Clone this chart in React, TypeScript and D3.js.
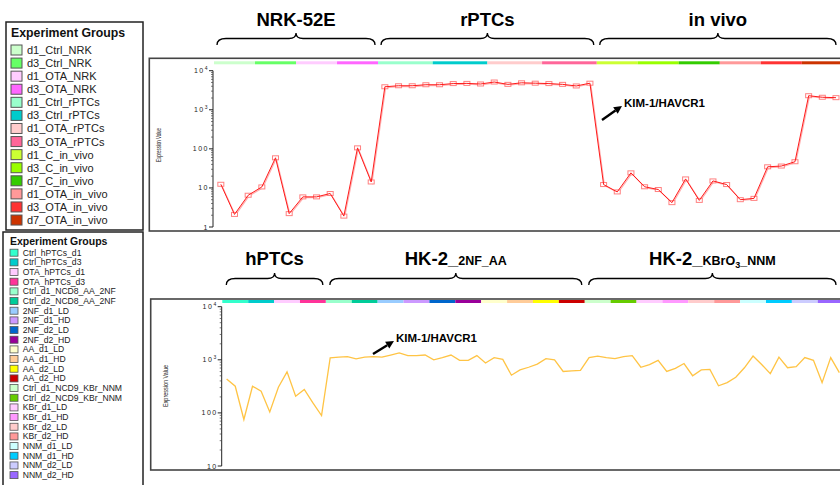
import React from 'react';
import * as d3 from 'd3';

const topGroups = ['d1_Ctrl_NRK','d3_Ctrl_NRK','d1_OTA_NRK','d3_OTA_NRK','d1_Ctrl_rPTCs','d3_Ctrl_rPTCs','d1_OTA_rPTCs','d3_OTA_rPTCs','d1_C_in_vivo','d3_C_in_vivo','d7_C_in_vivo','d1_OTA_in_vivo','d3_OTA_in_vivo','d7_OTA_in_vivo'];
const topColors = ['#ccffcc','#66ff66','#ffccff','#ff66ff','#99ffcc','#00cccc','#ffcccc','#ff6699','#ccff33','#99ff00','#33cc00','#ff9999','#ff3333','#cc3300'];
const topGroupSizes = [3,3,3,3,4,4,4,4,3,3,3,3,3,3];
const topValues = [12.4,2.1,6.5,10.6,59,2.2,5.9,5.9,7.2,1.9,106,14.2,
  3880,4120,4120,4370,4370,4680,4730,4570,5130,4470,4900,4790,4680,4470,4070,4790,
  12.2,7.9,24.3,10.7,9.1,4.2,17,4.8,15.1,12.2,5.0,5.4,34.7,36.3,46.8,2290,2090,2040];
const topSections = ['NRK-52E','rPTCs','in vivo'];
const topSectionGroups = [4,4,6];

const bottomGroups = ['Ctrl_hPTCs_d1','Ctrl_hPTCs_d3','OTA_hPTCs_d1','OTA_hPTCs_d3','Ctrl_d1_NCD8_AA_2NF','Ctrl_d2_NCD8_AA_2NF','2NF_d1_LD','2NF_d1_HD','2NF_d2_LD','2NF_d2_HD','AA_d1_LD','AA_d1_HD','AA_d2_LD','AA_d2_HD','Ctrl_d1_NCD9_KBr_NNM','Ctrl_d2_NCD9_KBr_NNM','KBr_d1_LD','KBr_d1_HD','KBr_d2_LD','KBr_d2_HD','NNM_d1_LD','NNM_d1_HD','NNM_d2_LD','NNM_d2_HD'];
const bottomColors = ['#33ffcc','#00cccc','#ffccff','#ff3399','#99ffcc','#00cc99','#99ccff','#cc99ff','#0066cc','#990099','#ffffcc','#ffcc99','#ffff00','#cc0000','#ccffcc','#66cc00','#ffccff','#ff99ff','#ffcccc','#ff9999','#ccffff','#00ccff','#ccccff','#9966ff'];
const bottomGroupSizes = Array.from({length: 24}, () => 3);
const bottomValues = [437,318,75,318,256,104,305,594,206,276,154,89,
  1090,1120,1150,1045,1120,1150,1120,1230,1350,1200,1200,1230,1000,1100,1230,977,977,1200,871,1100,1020,513,646,724,832,1050,1000,603,617,631,1100,1175,1100,
  1050,1150,1200,724,813,977,603,692,851,501,646,661,324,372,468,708,1175,813,550,1120,708,741,1100,977,372,1100,575];
const bottomSectionGroups = [4,10,10];

const FONT = 'Liberation Sans, Arial, sans-serif';

function bracePath(x1: number, x2: number, mid: number, yTop: number, yMid: number, yBot: number) {
  return `M${x1},${yBot} Q${x1},${yMid} ${x1 + 9},${yMid} L${mid - 7},${yMid} Q${mid},${yMid} ${mid},${yTop} Q${mid},${yMid} ${mid + 7},${yMid} L${x2 - 9},${yMid} Q${x2},${yMid} ${x2},${yBot}`;
}

function cumulative(sizes: number[]) {
  const out = [0];
  sizes.forEach(s => out.push(out[out.length - 1] + s));
  return out;
}

function YAxis({ scale, x, decades }: { scale: any; x: number; decades: number[] }) {
  const [lo, hi] = scale.domain();
  const minors: number[] = [];
  for (let d = lo; d < hi; d *= 10) for (let k = 2; k <= 9; k++) minors.push(d * k);
  const r = scale.range();
  return (
    <g>
      <line x1={x} x2={x} y1={r[0]} y2={r[1]} stroke="#222" strokeWidth={1} />
      {minors.map((m, i) => (
        <line key={'m' + i} x1={x - 2} x2={x} y1={scale(m)} y2={scale(m)} stroke="#444" strokeWidth={0.7} />
      ))}
      {decades.map((d, i) => (
        <g key={'d' + i}>
          <line x1={x - 4} x2={x} y1={scale(d)} y2={scale(d)} stroke="#222" strokeWidth={1} />
          {d >= 1000 ? (
            <text x={x - 4} y={scale(d) + 2.5} textAnchor="end" fontSize={7} letterSpacing={1.5} fill="#222" fontFamily={FONT}>
              10<tspan fontSize={5} dy={-3}>{d === 1e4 ? '4' : '3'}</tspan>
            </text>
          ) : (
            <text x={x - 4} y={scale(d) + 2.5} textAnchor="end" fontSize={7} letterSpacing={1.5} fill="#222" fontFamily={FONT}>{String(d)}</text>
          )}
        </g>
      ))}
    </g>
  );
}

function Arrow({ x1, y1, x2, y2 }: { x1: number; y1: number; x2: number; y2: number }) {
  const a = Math.atan2(y2 - y1, x2 - x1);
  const L = 8, W = 4;
  const bx = x2 - L * Math.cos(a), by = y2 - L * Math.sin(a);
  const p = `M${x2},${y2} L${bx + W * Math.sin(a)},${by - W * Math.cos(a)} L${bx - W * Math.sin(a)},${by + W * Math.cos(a)} Z`;
  return (
    <g>
      <line x1={x1} y1={y1} x2={bx} y2={by} stroke="#000" strokeWidth={2.4} />
      <path d={p} fill="#000" />
    </g>
  );
}

export default function App() {
  const xTop = d3.scaleLinear().domain([0, topValues.length]).range([214, 214 + topValues.length * 13.67]);
  const yTop = d3.scaleLog().domain([1, 1e4]).range([227, 70.7]);
  const xBot = d3.scaleLinear().domain([0, bottomValues.length]).range([222.3, 222.3 + bottomValues.length * 8.63]);
  const yBot = d3.scaleLog().domain([10, 1e4]).range([466, 306.7]);

  const topCum = cumulative(topGroupSizes);
  const botCum = cumulative(bottomGroupSizes);
  const topSecCum = cumulative(topSectionGroups);
  const botSecCum = cumulative(bottomSectionGroups);

  const topLine = d3.line<number>().x((_, i) => xTop(i + 0.5)).y(d => yTop(d));
  const botLine = d3.line<number>().x((_, i) => xBot(i + 0.5)).y(d => yBot(d));

  const clampR = (v: number) => Math.min(v, 836);

  return (
    <svg width={840} height={485} style={{ position: 'absolute', left: 0, top: 0, background: '#fff' }} fontFamily={FONT}>
      <rect x={0} y={0} width={840} height={485} fill="#fff" />

      {/* Legend top */}
      <rect x={6} y={22} width={137} height={208} fill="#fff" stroke="#222" strokeWidth={1.5} />
      <text x={11} y={37} fontSize={12.3} fontWeight="bold" fill="#111">Experiment Groups</text>
      {topGroups.map((g, i) => {
        const cy = 50 + 13.08 * i;
        return (
          <g key={g}>
            <rect x={11} y={cy - 5} width={11} height={10} fill={topColors[i]} stroke="#555" strokeWidth={1} />
            <text x={27} y={cy + 4} fontSize={11} fill="#222">{g}</text>
          </g>
        );
      })}

      {/* Legend bottom */}
      <rect x={3} y={232} width={140} height={262} fill="#fff" stroke="#222" strokeWidth={1.5} />
      <text x={10} y={245} fontSize={10.5} fontWeight="bold" fill="#111">Experiment Groups</text>
      {bottomGroups.map((g, i) => {
        const cy = 252.7 + 9.67 * i;
        return (
          <g key={g}>
            <rect x={10} y={cy - 3.5} width={8} height={7} fill={bottomColors[i]} stroke="#555" strokeWidth={0.8} />
            <text x={22.7} y={cy + 3} fontSize={8.6} fill="#222">{g}</text>
          </g>
        );
      })}

      {/* Top headers & braces */}
      {topSections.map((s, k) => {
        const x1 = xTop(topCum[topSecCum[k]]) + 3;
        const x2 = clampR(xTop(topCum[topSecCum[k + 1]]) - 3);
        const mid = (x1 + x2) / 2;
        return (
          <g key={s}>
            <text x={mid} y={26} textAnchor="middle" fontSize={18.5} fontWeight="bold" fill="#000">{s}</text>
            <path d={bracePath(x1, x2, mid, 33, 38.5, 45)} fill="none" stroke="#000" strokeWidth={1.3} />
          </g>
        );
      })}

      {/* Bottom headers & braces */}
      {[0, 1, 2].map(k => {
        const x1 = xBot(botCum[botSecCum[k]]) + 4;
        const x2 = clampR(xBot(botCum[botSecCum[k + 1]]) - 3);
        const mid = (x1 + x2) / 2;
        return (
          <g key={'bs' + k}>
            <path d={bracePath(x1, x2, mid, 273, 278.5, 285)} fill="none" stroke="#000" strokeWidth={1.3} />
            {k === 0 && <text x={mid} y={265} textAnchor="middle" fontSize={18.5} fontWeight="bold">hPTCs</text>}
            {k === 1 && (
              <text x={mid} y={265} textAnchor="middle" fontWeight="bold" fontSize={18.5}>
                HK-2_<tspan fontSize={12.5}>2NF_AA</tspan>
              </text>
            )}
            {k === 2 && (
              <text x={mid} y={265} textAnchor="middle" fontWeight="bold" fontSize={18.5}>
                HK-2_<tspan fontSize={12.5}>KBrO</tspan><tspan fontSize={9} dy={3}>3</tspan><tspan fontSize={12.5} dy={-3}>_NNM</tspan>
              </text>
            )}
          </g>
        );
      })}

      {/* Top chart */}
      <rect x={149.3} y={58.3} width={720} height={172.7} fill="#fff" stroke="#444" strokeWidth={1.6} />
      {topGroups.map((g, i) => (
        <rect key={'tb' + g} x={xTop(topCum[i])} y={61.3} width={xTop(topCum[i + 1]) - xTop(topCum[i])} height={3} fill={topColors[i]} />
      ))}
      <YAxis scale={yTop} x={213} decades={[1, 10, 100, 1000, 10000]} />
      <text transform="translate(161,145) rotate(-90)" textAnchor="middle" fontSize={7.5} textLength={34} lengthAdjust="spacingAndGlyphs" fill="#222">Expression Value</text>
      <path d={topLine(topValues) || ''} transform="translate(0.8,0.8)" fill="none" stroke="#ffb0b0" strokeWidth={1.2} />
      {topValues.map((v, i) => (
        <rect key={'mk' + i} x={xTop(i + 0.5) - 3} y={yTop(v) - 2} width={6} height={4} fill="#fff" stroke="#ff8080" strokeWidth={1} />
      ))}
      <path d={topLine(topValues) || ''} fill="none" stroke="#ff1a1a" strokeWidth={1} />
      <Arrow x1={602} y1={120} x2={622} y2={106} />
      <text x={624} y={107} fontSize={11.5} fontWeight="bold" fill="#000">KIM-1/HAVCR1</text>

      {/* Bottom chart */}
      <rect x={150.7} y={299} width={720} height={171} fill="#fff" stroke="#444" strokeWidth={1.6} />
      {bottomGroups.map((g, i) => (
        <rect key={'bb' + g} x={xBot(botCum[i])} y={300} width={xBot(botCum[i + 1]) - xBot(botCum[i])} height={3} fill={bottomColors[i]} />
      ))}
      <YAxis scale={yBot} x={221.7} decades={[10, 100, 1000, 10000]} />
      <text transform="translate(168,386) rotate(-90)" textAnchor="middle" fontSize={8} textLength={42} lengthAdjust="spacingAndGlyphs" fill="#222">Expression Value</text>
      <path d={botLine(bottomValues) || ''} fill="none" stroke="#ffc445" strokeWidth={1.3} />
      <Arrow x1={373} y1={354} x2={394} y2={341} />
      <text x={396} y={342} fontSize={11.5} fontWeight="bold" fill="#000">KIM-1/HAVCR1</text>
    </svg>
  );
}
